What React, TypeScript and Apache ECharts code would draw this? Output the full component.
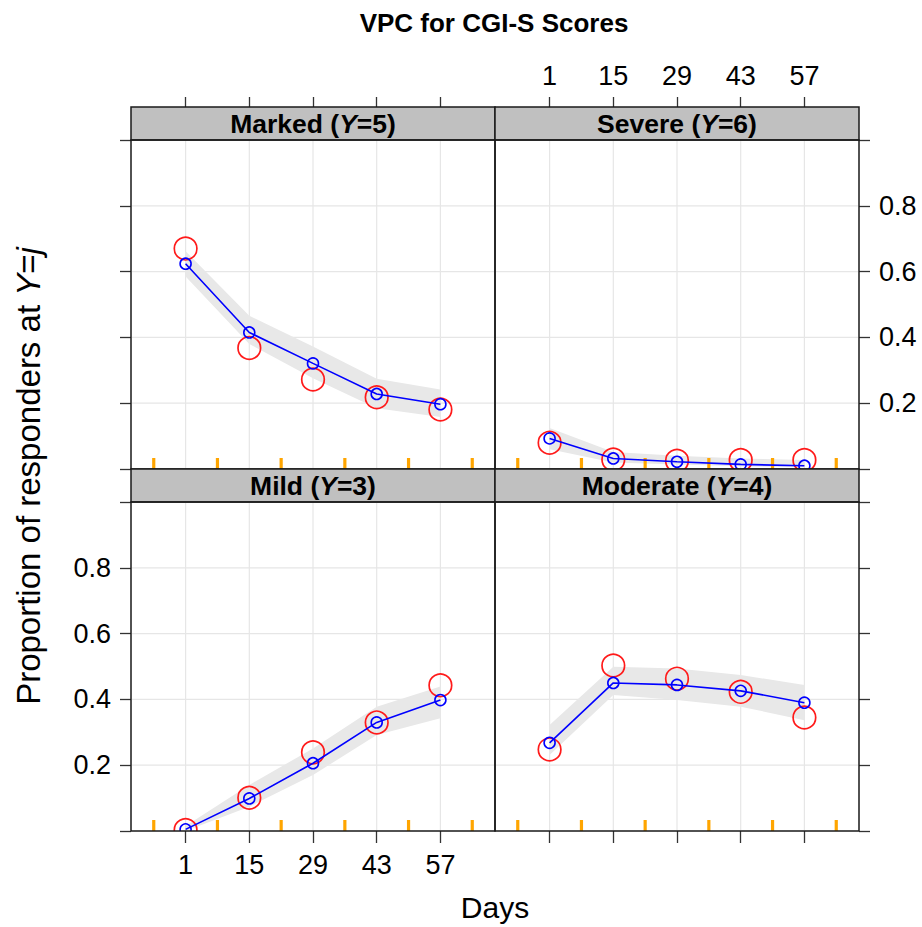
import React, { useEffect, useRef } from "react";
import * as echarts from "echarts";

// Visit days and tick values
const days = [1, 15, 29, 43, 57];
const rugDays = [-6, 8, 22, 36, 50, 64];
const dayTicks = [1, 15, 29, 43, 57];
const propTicks = [0, 0.2, 0.4, 0.6, 0.8, 1];
const propLabels = [0.2, 0.4, 0.6, 0.8];

// Marked (Y=5)
const markedObserved = [0.67, 0.368, 0.272, 0.218, 0.181];
const markedPredicted = [0.624, 0.415, 0.321, 0.228, 0.197];
const markedLower = [0.585, 0.38, 0.276, 0.185, 0.158];
const markedUpper = [0.662, 0.466, 0.372, 0.274, 0.242];

// Severe (Y=6)
const severeObserved = [0.08, 0.029, 0.025, 0.027, 0.027];
const severePredicted = [0.093, 0.032, 0.022, 0.014, 0.01];
const severeLower = [0.06, 0.02, 0.014, 0.008, 0.005];
const severeUpper = [0.125, 0.052, 0.04, 0.032, 0.027];

// Mild (Y=3)
const mildObserved = [0.003, 0.101, 0.239, 0.33, 0.443];
const mildPredicted = [0.005, 0.099, 0.206, 0.33, 0.398];
const mildLower = [0.0, 0.074, 0.17, 0.292, 0.343];
const mildUpper = [0.015, 0.14, 0.251, 0.378, 0.439];

// Moderate (Y=4)
const moderateObserved = [0.248, 0.503, 0.463, 0.423, 0.345];
const moderatePredicted = [0.268, 0.45, 0.444, 0.426, 0.39];
const moderateLower = [0.231, 0.413, 0.398, 0.378, 0.337];
const moderateUpper = [0.322, 0.499, 0.494, 0.474, 0.444];

const panels = [
  { label: "Marked", level: 5, obs: markedObserved, pred: markedPredicted, lo: markedLower, hi: markedUpper, col: 0, row: 0 },
  { label: "Severe", level: 6, obs: severeObserved, pred: severePredicted, lo: severeLower, hi: severeUpper, col: 1, row: 0 },
  { label: "Mild", level: 3, obs: mildObserved, pred: mildPredicted, lo: mildLower, hi: mildUpper, col: 0, row: 1 },
  { label: "Moderate", level: 4, obs: moderateObserved, pred: moderatePredicted, lo: moderateLower, hi: moderateUpper, col: 1, row: 1 },
];

const FONT = "Liberation Sans, Arial, Helvetica, sans-serif";
const LEFT = 131;
const PW = 364;
const PH = 329;
const STRIP = 33;
const TOP1 = 140;
const TOP2 = TOP1 + PH + STRIP;
const BORDER = "#1a1a1a";
const TICK_STYLE = { color: "#333", width: 1.3 };

function buildOption() {
  const grids: any[] = [];
  const xAxes: any[] = [];
  const yAxes: any[] = [];
  const series: any[] = [];
  const graphics: any[] = [];

  panels.forEach((p, i) => {
    const left = LEFT + p.col * PW;
    const top = p.row === 0 ? TOP1 : TOP2;
    const labelled = (p.row === 0 && p.col === 1) || (p.row === 1 && p.col === 0);

    grids.push({ left, top, width: PW, height: PH, show: false });

    xAxes.push({
      gridIndex: i,
      type: "value",
      min: -11,
      max: 69,
      position: p.row === 0 ? "top" : "bottom",
      offset: p.row === 0 ? STRIP : 0,
      axisLine: { show: false, onZero: false },
      splitLine: { show: false },
      axisTick: { show: true, inside: false, length: p.row === 0 ? 10 : 12, customValues: dayTicks, lineStyle: TICK_STYLE },
      axisLabel: { show: labelled, customValues: dayTicks, margin: p.row === 0 ? 18 : 20, fontSize: 27, color: "#000", fontFamily: FONT },
    });

    yAxes.push({
      gridIndex: i,
      type: "value",
      min: 0,
      max: 1,
      interval: 0.2,
      position: p.col === 0 ? "left" : "right",
      axisLine: { show: false, onZero: false },
      splitLine: { show: false },
      axisTick: { show: true, inside: false, length: 11, customValues: propTicks, lineStyle: TICK_STYLE },
      axisLabel: { show: labelled, customValues: propLabels, margin: 20, fontSize: 27, color: "#000", fontFamily: FONT },
    });

    // reference grid: vertical lines at visit days
    series.push({
      type: "custom",
      xAxisIndex: i,
      yAxisIndex: i,
      z: 1,
      silent: true,
      clip: false,
      data: dayTicks.map((d) => [d, 0.5]),
      renderItem: (params: any, api: any) => {
        const cs = params.coordSys;
        const x = api.coord([api.value(0), 0])[0];
        return {
          type: "line",
          shape: { x1: x, y1: cs.y + 1, x2: x, y2: cs.y + cs.height - 1 },
          style: { stroke: "#e6e6e6", lineWidth: 1.2 },
        };
      },
    });

    // reference grid: horizontal lines at proportions
    series.push({
      type: "custom",
      xAxisIndex: i,
      yAxisIndex: i,
      z: 1,
      silent: true,
      clip: false,
      data: propLabels.map((v) => [29, v]),
      renderItem: (params: any, api: any) => {
        const cs = params.coordSys;
        const y = api.coord([0, api.value(1)])[1];
        return {
          type: "line",
          shape: { x1: cs.x + 1, y1: y, x2: cs.x + cs.width - 1, y2: y },
          style: { stroke: "#e6e6e6", lineWidth: 1.2 },
        };
      },
    });

    // prediction interval band
    const lo = p.lo;
    const hi = p.hi;
    series.push({
      type: "custom",
      xAxisIndex: i,
      yAxisIndex: i,
      z: 2,
      silent: true,
      clip: true,
      data: days.map((d, k) => [d, lo[k], hi[k]]),
      encode: { x: 0, y: [1, 2] },
      renderItem: (params: any, api: any) => {
        if (params.dataIndex !== 0) return null;
        const upper = days.map((d, k) => api.coord([d, hi[k]]));
        const lower = days.map((d, k) => api.coord([d, lo[k]])).reverse();
        return {
          type: "polygon",
          shape: { points: upper.concat(lower) },
          style: { fill: "#e8e8e8", stroke: "none" },
        };
      },
    });

    // rug marks at the time-bin boundaries
    series.push({
      type: "custom",
      xAxisIndex: i,
      yAxisIndex: i,
      z: 3,
      silent: true,
      clip: false,
      data: rugDays.map((d) => [d, 0]),
      renderItem: (params: any, api: any) => {
        const pt = api.coord([api.value(0), api.value(1)]);
        return {
          type: "rect",
          shape: { x: pt[0] - 1.6, y: pt[1] - 11, width: 3.2, height: 11 },
          style: { fill: "#ffa500" },
        };
      },
    });

    // observed proportions
    series.push({
      type: "custom",
      name: "Observed",
      xAxisIndex: i,
      yAxisIndex: i,
      z: 4,
      clip: true,
      data: days.map((d, k) => [d, p.obs[k]]),
      renderItem: (params: any, api: any) => {
        const pt = api.coord([api.value(0), api.value(1)]);
        return {
          type: "circle",
          shape: { cx: pt[0], cy: pt[1], r: 11.3 },
          style: { fill: "none", stroke: "#ff1a1a", lineWidth: 1.7 },
        };
      },
    });

    // model-predicted proportions
    series.push({
      type: "line",
      name: "Predicted",
      xAxisIndex: i,
      yAxisIndex: i,
      z: 5,
      symbol: "none",
      data: days.map((d, k) => [d, p.pred[k]]),
      lineStyle: { color: "#0000ff", width: 1.6 },
    });
    series.push({
      type: "custom",
      xAxisIndex: i,
      yAxisIndex: i,
      z: 6,
      clip: true,
      data: days.map((d, k) => [d, p.pred[k]]),
      renderItem: (params: any, api: any) => {
        const pt = api.coord([api.value(0), api.value(1)]);
        return {
          type: "circle",
          shape: { cx: pt[0], cy: pt[1], r: 5.5 },
          style: { fill: "none", stroke: "#0000ff", lineWidth: 1.6 },
        };
      },
    });

    // strip with the panel heading
    const stripTop = top - STRIP;
    graphics.push({
      type: "rect",
      z: 100,
      shape: { x: left, y: stripTop, width: PW, height: STRIP },
      style: { fill: "#c0c0c0", stroke: BORDER, lineWidth: 1.5 },
    });
    graphics.push({
      type: "text",
      z: 101,
      x: left + PW / 2,
      y: stripTop + STRIP / 2 + 0.5,
      style: {
        text: `${p.label} ({i|Y}=${p.level})`,
        fontSize: 26.5,
        fontWeight: "bold",
        fontFamily: FONT,
        fill: "#000",
        align: "center",
        verticalAlign: "middle",
        rich: { i: { fontSize: 26.5, fontWeight: "bold", fontStyle: "italic", fontFamily: FONT, fill: "#000" } },
      },
    });
    // panel frame
    graphics.push({
      type: "rect",
      z: 100,
      shape: { x: left, y: top, width: PW, height: PH },
      style: { fill: "none", stroke: BORDER, lineWidth: 1.5 },
    });
  });

  graphics.push({
    type: "text",
    x: LEFT + PW - 1,
    y: 23,
    style: {
      text: "VPC for CGI-S Scores",
      fontSize: 26,
      fontWeight: "bold",
      fontFamily: FONT,
      fill: "#000",
      align: "center",
      verticalAlign: "middle",
    },
  });
  graphics.push({
    type: "text",
    x: LEFT + PW,
    y: 907,
    style: {
      text: "Days",
      fontSize: 30,
      fontFamily: FONT,
      fill: "#000",
      align: "center",
      verticalAlign: "middle",
    },
  });
  graphics.push({
    type: "text",
    x: 28,
    y: 476,
    rotation: Math.PI / 2,
    style: {
      text: "Proportion of responders at {i|Y}={i|j}",
      fontSize: 33,
      fontFamily: FONT,
      fill: "#000",
      align: "center",
      verticalAlign: "middle",
      rich: { i: { fontSize: 33, fontStyle: "italic", fontFamily: FONT, fill: "#000" } },
    },
  });

  return {
    animation: false,
    backgroundColor: "#ffffff",
    grid: grids,
    xAxis: xAxes,
    yAxis: yAxes,
    series,
    graphic: graphics,
  };
}

export default function App() {
  const ref = useRef<HTMLDivElement>(null);

  useEffect(() => {
    if (!ref.current) return;
    const chart = echarts.init(ref.current, undefined, { renderer: "svg" });
    chart.setOption(buildOption() as any);
    return () => chart.dispose();
  }, []);

  return (
    <div
      ref={ref}
      style={{ position: "absolute", left: 0, top: 0, width: 922, height: 927 }}
    />
  );
}
